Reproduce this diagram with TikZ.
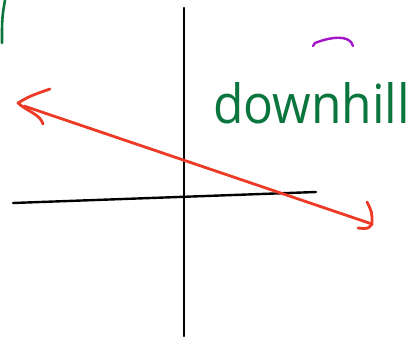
\documentclass[tikz,border=0pt]{standalone}
\usepackage{fontspec}
\setsansfont{Open Sans}
\definecolor{inkgreen}{RGB}{10,118,62}
\definecolor{inkred}{RGB}{236,58,38}
\definecolor{inkpurple}{RGB}{165,20,200}
\begin{document}
\begin{tikzpicture}[x=1pt,y=-1pt,line cap=round,line join=round,
  axis/.style={black,line width=2.4pt},
  redink/.style={inkred,line width=2.8pt},
  greenink/.style={inkgreen,line width=2.6pt}]
\useasboundingbox (0,0) rectangle (417,339);
% axes
\coordinate (vt) at (184,8);
\coordinate (vb) at (184,336);
\coordinate (hl) at (13,203);
\coordinate (hr) at (316,192);
\draw[axis] (vt) -- (vb);
\draw[axis] (hl) -- (hr);
% red line
\coordinate (lt) at (18,103);
\coordinate (rt) at (372,224);
\draw[redink] (24,106) -- (rt);
\draw[redink] (50,89) .. controls (30,96) .. (lt) .. controls (28,112) and (40,114) .. (43,124);
\draw[redink] (367,202) .. controls (372,212) .. (rt) .. controls (368,229) .. (358,228);
% green mark
\draw[greenink] (5,0) .. controls (2,18) .. (2,43);
% purple arc
\draw[inkpurple,line width=2.4pt] (313,46) -- (315,43) .. controls (330,37) and (350,34) .. (353,46);
% text
\node[inkgreen,anchor=base west,inner sep=0pt] (word) at (213,124)
  {\fontsize{54}{54}\sffamily\addfontfeature{FakeStretch=0.92}downhill};
\end{tikzpicture}
\end{document}
